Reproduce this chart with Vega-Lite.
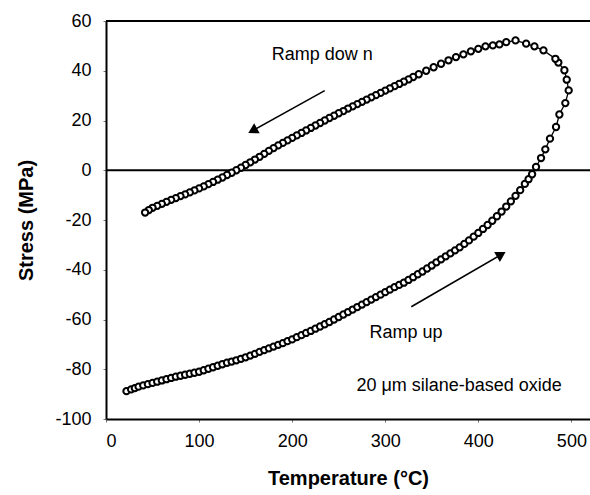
{
  "$schema": "https://vega.github.io/schema/vega-lite/v6.json",
  "autosize": "none",
  "width": 484,
  "height": 398,
  "padding": {"left": 106, "top": 21, "right": 0, "bottom": 76},
  "background": "white",
  "config": {
    "view": {"stroke": null},
    "font": "Liberation Sans",
    "axis": {"grid": false, "domainColor": "black", "domainWidth": 2, "tickColor": "#777", "tickSize": 3, "labelColor": "black", "labelFontSize": 18, "labelFont": "Liberation Sans", "titleFont": "Liberation Sans", "titleFontSize": 20, "titleFontWeight": "bold", "titleColor": "black", "labelExpr": "replace(datum.label, '−', '-')"}
  },
  "datasets": {
    "pts": [
      {"i":1,"T":22,"S":-88.8},{"i":2,"T":27,"S":-88.1},{"i":3,"T":31,"S":-87.6},{"i":4,"T":35,"S":-87.0},{"i":5,"T":40,"S":-86.5},{"i":6,"T":45,"S":-86.0},{"i":7,"T":50,"S":-85.5},{"i":8,"T":55,"S":-85.0},{"i":9,"T":60,"S":-84.5},{"i":10,"T":65,"S":-84.0},
      {"i":11,"T":70,"S":-83.5},{"i":12,"T":75,"S":-83.0},{"i":13,"T":80,"S":-82.6},{"i":14,"T":85,"S":-82.2},{"i":15,"T":90,"S":-81.8},{"i":16,"T":95,"S":-81.4},{"i":17,"T":100,"S":-81.0},{"i":18,"T":105,"S":-80.4},{"i":19,"T":110,"S":-79.8},{"i":20,"T":115,"S":-79.2},
      {"i":21,"T":120,"S":-78.6},{"i":22,"T":125,"S":-78.0},{"i":23,"T":130,"S":-77.4},{"i":24,"T":135,"S":-76.9},{"i":25,"T":140,"S":-76.4},{"i":26,"T":145,"S":-75.8},{"i":27,"T":150,"S":-75.2},{"i":28,"T":155,"S":-74.5},{"i":29,"T":160,"S":-73.8},{"i":30,"T":165,"S":-73.0},
      {"i":31,"T":170,"S":-72.3},{"i":32,"T":175,"S":-71.6},{"i":33,"T":180,"S":-70.9},{"i":34,"T":185,"S":-70.2},{"i":35,"T":190,"S":-69.5},{"i":36,"T":195,"S":-68.7},{"i":37,"T":200,"S":-68.0},{"i":38,"T":205,"S":-67.1},{"i":39,"T":210,"S":-66.3},{"i":40,"T":215,"S":-65.4},
      {"i":41,"T":220,"S":-64.6},{"i":42,"T":225,"S":-63.7},{"i":43,"T":230,"S":-62.8},{"i":44,"T":235,"S":-61.9},{"i":45,"T":240,"S":-61.0},{"i":46,"T":245,"S":-60.0},{"i":47,"T":250,"S":-59.0},{"i":48,"T":255,"S":-58.0},{"i":49,"T":260,"S":-57.0},{"i":50,"T":265,"S":-56.0},
      {"i":51,"T":270,"S":-55.0},{"i":52,"T":275,"S":-54.0},{"i":53,"T":280,"S":-53.0},{"i":54,"T":285,"S":-52.0},{"i":55,"T":290,"S":-51.0},{"i":56,"T":295,"S":-50.0},{"i":57,"T":300,"S":-49.0},{"i":58,"T":305,"S":-48.0},{"i":59,"T":310,"S":-47.0},{"i":60,"T":315,"S":-46.1},
      {"i":61,"T":320,"S":-45.2},{"i":62,"T":325,"S":-44.1},{"i":63,"T":330,"S":-43.0},{"i":64,"T":335,"S":-41.8},{"i":65,"T":340,"S":-40.7},{"i":66,"T":345,"S":-39.5},{"i":67,"T":350,"S":-38.3},{"i":68,"T":355,"S":-37.0},{"i":69,"T":360,"S":-35.8},{"i":70,"T":365,"S":-34.6},
      {"i":71,"T":370,"S":-33.4},{"i":72,"T":375,"S":-32.2},{"i":73,"T":380,"S":-31.0},{"i":74,"T":385,"S":-29.6},{"i":75,"T":390,"S":-28.2},{"i":76,"T":395,"S":-26.7},{"i":77,"T":400,"S":-25.2},{"i":78,"T":405,"S":-23.6},{"i":79,"T":410,"S":-22.0},{"i":80,"T":415,"S":-20.3},
      {"i":81,"T":420,"S":-18.5},{"i":82,"T":425,"S":-16.6},{"i":83,"T":430,"S":-14.6},{"i":84,"T":435,"S":-12.5},{"i":85,"T":440,"S":-10.3},{"i":86,"T":445,"S":-8.0},{"i":87,"T":450,"S":-5.5},{"i":88,"T":454,"S":-3.6},{"i":89,"T":457.8,"S":-1.6},{"i":90,"T":462,"S":1.3},
      {"i":91,"T":467.4,"S":4.9},{"i":92,"T":472,"S":8.4},{"i":93,"T":477,"S":12.7},{"i":94,"T":483.5,"S":17.4},{"i":95,"T":487.1,"S":22.4},{"i":96,"T":493.5,"S":27.0},{"i":97,"T":497.1,"S":32.1},{"i":98,"T":495,"S":36.4},{"i":99,"T":492.5,"S":40.2},{"i":100,"T":486,"S":43.3},
      {"i":101,"T":482.8,"S":44.8},{"i":102,"T":470,"S":48.2},{"i":103,"T":460.3,"S":49.8},{"i":104,"T":451.4,"S":50.9},{"i":105,"T":440,"S":52.2},{"i":106,"T":430,"S":51.5},{"i":107,"T":422.7,"S":50.6},{"i":108,"T":415.6,"S":50.2},{"i":109,"T":407.7,"S":49.8},{"i":110,"T":400,"S":48.8},
      {"i":111,"T":392,"S":47.8},{"i":112,"T":384,"S":46.6},{"i":113,"T":376,"S":45.5},{"i":114,"T":368,"S":44.2},{"i":115,"T":360,"S":42.8},{"i":116,"T":352,"S":41.4},{"i":117,"T":344,"S":40.0},{"i":118,"T":336,"S":38.6},{"i":119,"T":330,"S":37.5},{"i":120,"T":325,"S":36.5},
      {"i":121,"T":320,"S":35.6},{"i":122,"T":315,"S":34.7},{"i":123,"T":310,"S":33.8},{"i":124,"T":305,"S":32.9},{"i":125,"T":300,"S":32.0},{"i":126,"T":295,"S":31.1},{"i":127,"T":290,"S":30.2},{"i":128,"T":285,"S":29.3},{"i":129,"T":280,"S":28.4},{"i":130,"T":275,"S":27.5},
      {"i":131,"T":270,"S":26.6},{"i":132,"T":265,"S":25.7},{"i":133,"T":260,"S":24.8},{"i":134,"T":255,"S":23.8},{"i":135,"T":250,"S":22.9},{"i":136,"T":245,"S":21.9},{"i":137,"T":240,"S":21.0},{"i":138,"T":235,"S":20.0},{"i":139,"T":230,"S":19.0},{"i":140,"T":225,"S":18.0},
      {"i":141,"T":220,"S":17.0},{"i":142,"T":215,"S":16.0},{"i":143,"T":210,"S":15.0},{"i":144,"T":205,"S":14.0},{"i":145,"T":200,"S":13.0},{"i":146,"T":195,"S":12.0},{"i":147,"T":190,"S":11.0},{"i":148,"T":185,"S":10.0},{"i":149,"T":180,"S":8.9},{"i":150,"T":175,"S":7.8},
      {"i":151,"T":170,"S":6.6},{"i":152,"T":165,"S":5.4},{"i":153,"T":160,"S":4.3},{"i":154,"T":155,"S":3.2},{"i":155,"T":150,"S":2.1},{"i":156,"T":145,"S":1.0},{"i":157,"T":140,"S":0.0},{"i":158,"T":135,"S":-1.0},{"i":159,"T":130,"S":-1.9},{"i":160,"T":125,"S":-2.9},
      {"i":161,"T":120,"S":-3.8},{"i":162,"T":115,"S":-4.7},{"i":163,"T":110,"S":-5.6},{"i":164,"T":105,"S":-6.5},{"i":165,"T":100,"S":-7.3},{"i":166,"T":95,"S":-8.1},{"i":167,"T":90,"S":-8.9},{"i":168,"T":85,"S":-9.7},{"i":169,"T":80,"S":-10.4},{"i":170,"T":75,"S":-11.2},
      {"i":171,"T":70,"S":-11.9},{"i":172,"T":65,"S":-12.7},{"i":173,"T":60,"S":-13.5},{"i":174,"T":55,"S":-14.3},{"i":175,"T":50,"S":-15.1},{"i":176,"T":46,"S":-16.0},{"i":177,"T":42,"S":-17.0}
    ],
    "labels": [
      {"T": 178, "S": 46.2, "label": "Ramp dow n"},
      {"T": 283, "S": -65.5, "label": "Ramp up"},
      {"T": 269, "S": -86.7, "label": "20 μm silane-based oxide"}
    ]
  },
  "layer": [
    {
      "data": {"values": [{"S": 60}, {"S": 0}]},
      "mark": {"type": "rule", "color": "black", "strokeWidth": 2},
      "encoding": {"y": {"field": "S", "type": "quantitative"}}
    },
    {
      "data": {"name": "pts"},
      "mark": {"type": "line", "color": "black", "strokeWidth": 1.3},
      "encoding": {
        "x": {"field": "T", "type": "quantitative", "scale": {"domain": [0, 520], "nice": false},
              "axis": {"values": [0, 100, 200, 300, 400, 500], "title": "Temperature (°C)", "labelPadding": 10, "titlePadding": 18}},
        "y": {"field": "S", "type": "quantitative", "scale": {"domain": [-100, 60], "nice": false},
              "axis": {"values": [-100, -80, -60, -40, -20, 0, 20, 40, 60], "title": "Stress (MPa)", "labelPadding": 12, "titlePadding": 18}},
        "order": {"field": "i", "type": "quantitative"}
      }
    },
    {
      "data": {"name": "pts"},
      "mark": {"type": "point", "shape": "circle", "size": 40, "filled": true, "fill": "white", "stroke": "black", "strokeWidth": 2, "opacity": 1},
      "encoding": {
        "x": {"field": "T", "type": "quantitative"},
        "y": {"field": "S", "type": "quantitative"}
      }
    },
    {
      "data": {"values": [{"T": 235, "S": 32, "T2": 157.5, "S2": 15.9}, {"T": 328, "S": -54.9, "T2": 424.7, "S2": -33.9}]},
      "mark": {"type": "rule", "color": "black", "strokeWidth": 1.6},
      "encoding": {
        "x": {"field": "T", "type": "quantitative"},
        "y": {"field": "S", "type": "quantitative"},
        "x2": {"field": "T2"},
        "y2": {"field": "S2"}
      }
    },
    {
      "data": {"values": [{"T": 157.5, "S": 15.9}]},
      "mark": {"type": "point", "shape": "triangle-right", "size": 130, "filled": true, "color": "black", "opacity": 1, "angle": 151},
      "encoding": {
        "x": {"field": "T", "type": "quantitative"},
        "y": {"field": "S", "type": "quantitative"}
      }
    },
    {
      "data": {"values": [{"T": 424.7, "S": -33.9}]},
      "mark": {"type": "point", "shape": "triangle-right", "size": 130, "filled": true, "color": "black", "opacity": 1, "angle": 330},
      "encoding": {
        "x": {"field": "T", "type": "quantitative"},
        "y": {"field": "S", "type": "quantitative"}
      }
    },
    {
      "data": {"name": "labels"},
      "mark": {"type": "text", "align": "left", "baseline": "middle", "fontSize": 18, "font": "Liberation Sans", "color": "black"},
      "encoding": {
        "x": {"field": "T", "type": "quantitative"},
        "y": {"field": "S", "type": "quantitative"},
        "text": {"field": "label"}
      }
    }
  ]
}
